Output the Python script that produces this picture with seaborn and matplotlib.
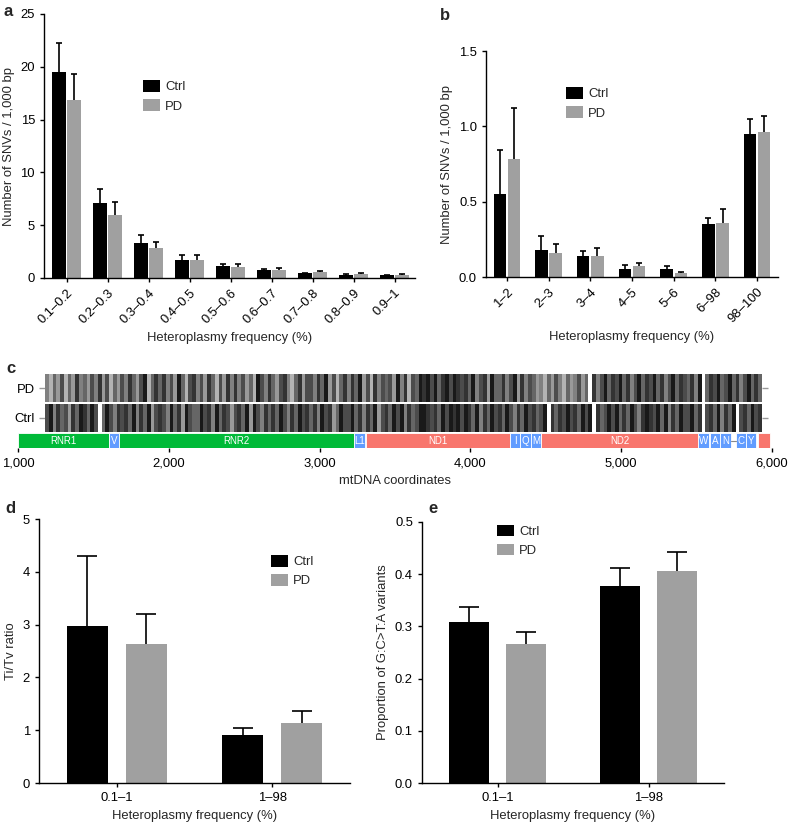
import matplotlib
matplotlib.use("Agg")
import matplotlib.pyplot as plt
import matplotlib.ticker as mticker
import pandas as pd
import seaborn as sns

sns.set_style("ticks")
plt.rcParams['font.family'] = ['Liberation Sans', 'DejaVu Sans']
plt.rcParams['font.size'] = 9.4
plt.rcParams['axes.linewidth'] = 1.0
plt.rcParams['xtick.major.width'] = 1.0
plt.rcParams['ytick.major.width'] = 1.0
plt.rcParams['xtick.major.size'] = 3
plt.rcParams['ytick.major.size'] = 3
plt.rcParams['xtick.color'] = 'black'
plt.rcParams['ytick.color'] = 'black'
plt.rcParams['axes.edgecolor'] = 'black'

groups = ["Ctrl", "PD"]
colors = {"Ctrl": "#000000", "PD": "#a0a0a0"}

# panel a
a_bins = ["0.1–0.2", "0.2–0.3", "0.3–0.4", "0.4–0.5", "0.5–0.6",
          "0.6–0.7", "0.7–0.8", "0.8–0.9", "0.9–1"]
a_ctrl = [19.5, 7.1, 3.35, 1.7, 1.1, 0.72, 0.45, 0.3, 0.28]
a_ctrl_top = [22.3, 8.4, 4.05, 2.15, 1.3, 0.85, 0.52, 0.35, 0.33]
a_pd = [16.9, 6.0, 2.85, 1.75, 1.05, 0.8, 0.55, 0.4, 0.32]
a_pd_top = [19.3, 7.2, 3.4, 2.2, 1.32, 0.97, 0.65, 0.46, 0.4]

# panel b
b_bins = ["1–2", "2–3", "3–4", "4–5", "5–6", "6–98", "98–100"]
b_ctrl = [0.55, 0.18, 0.14, 0.05, 0.05, 0.35, 0.95]
b_ctrl_top = [0.84, 0.27, 0.17, 0.08, 0.07, 0.39, 1.05]
b_pd = [0.78, 0.16, 0.14, 0.07, 0.025, 0.36, 0.96]
b_pd_top = [1.12, 0.22, 0.19, 0.09, 0.032, 0.45, 1.07]

# panel c: binned SNV density (darkness 0-9) per 25 bp, from 1180 to 5930
c_start = 1180
c_end = 5930
c_bin = 25
c_pd = ("5364736485 6475847364 7586479368 6857496378 5748637485 "
        "8574639758 6478536847 7586947368 5869473857 6749583769 "
        "8979689798 7869578496 6857948576 4536475364 5746085796 "
        "8796857968 7968579687 6859068796 7968579686").replace(" ", "")
c_ctrl = ("7958674869 8697069758 7869586947 8759684976 6978596874 "
          "7869497586 8697586978 6859784697 7968586947 8697958679 "
          "9878697989 7986958697 8697586978 6790868797 8697908679 "
          "7968697589 8796958697 7968078695 8690786978").replace(" ", "")

gene_names = ["RNR1", "V", "RNR2", "L1", "ND1", "I", "Q", "M", "ND2",
              "W", "A", "N", "C", "Y", ""]
gene_start = [1000, 1602, 1671, 3230, 3307, 4263, 4331, 4402, 4470,
              5512, 5587, 5657, 5761, 5826, 5904]
gene_end = [1601, 1670, 3229, 3304, 4262, 4331, 4400, 4469, 5511,
            5579, 5655, 5729, 5826, 5891, 5990]
gene_kind = ["rRNA", "tRNA", "rRNA", "tRNA", "prot", "tRNA", "tRNA", "tRNA",
             "prot", "tRNA", "tRNA", "tRNA", "tRNA", "tRNA", "prot"]
kind_colors = {"rRNA": "#00ba38", "tRNA": "#619cff", "prot": "#f8766d"}

# panel d
d_bins = ["0.1–1", "1–98"]
d_ctrl = [2.97, 0.9]
d_ctrl_top = [4.3, 1.05]
d_pd = [2.63, 1.13]
d_pd_top = [3.21, 1.37]

# panel e
e_ctrl = [0.308, 0.378]
e_ctrl_top = [0.338, 0.412]
e_pd = [0.266, 0.406]
e_pd_top = [0.29, 0.442]


def bar_panel(ax, cats, ctrl, pdv, ctrl_top, pd_top, width, gap, capsize):
    df = pd.DataFrame({"bin": cats * 2,
                       "group": ["Ctrl"] * len(cats) + ["PD"] * len(cats),
                       "value": ctrl + pdv})
    sns.barplot(data=df, x="bin", y="value", hue="group", palette=colors,
                width=width, gap=gap, errorbar=None, saturation=1,
                linewidth=0, ax=ax)
    # one-sided (upper) error bars, cap only at the top
    for cont, top in zip(ax.containers, [ctrl_top, pd_top]):
        for bar, t in zip(cont, top):
            x = bar.get_x() + bar.get_width() / 2
            h = bar.get_height()
            ax.vlines(x, h, t, color="black", lw=1.2, zorder=5)
            ax.plot([x], [t], marker="_", ms=capsize * 2, mew=1.2, color="black",
                    zorder=5, clip_on=False)
    sns.despine(ax=ax)
    ax.set_xlabel("Heteroplasmy frequency (%)")


def legend(ax, anchor):
    h, l = ax.get_legend_handles_labels()
    ax.legend(h[:2], l[:2], loc="upper left", bbox_to_anchor=anchor, frameon=False,
              borderaxespad=0, borderpad=0, handlelength=1.3, handleheight=1.0,
              handletextpad=0.4, labelspacing=0.45, fontsize=9.4)


W, H = 788, 823
fig = plt.figure(figsize=(W / 100, H / 100), dpi=100)


def box(x0, y0, x1, y1):
    return [x0 / W, 1 - y1 / H, (x1 - x0) / W, (y1 - y0) / H]


# a
ax_a = fig.add_axes(box(44, 14, 415, 278))
bar_panel(ax_a, a_bins, a_ctrl, a_pd, a_ctrl_top, a_pd_top, 0.75, 0.09, 2.5)
ax_a.set_xlim(-0.55, 8.5)
ax_a.set_ylim(0, 25)
ax_a.set_yticks([0, 5, 10, 15, 20, 25])
ax_a.set_ylabel("Number of SNVs / 1,000 bp")
plt.setp(ax_a.get_xticklabels(), rotation=45, ha="right", rotation_mode="anchor")
legend(ax_a, (0.267, 0.75))

# b
ax_b = fig.add_axes(box(486, 51, 778, 277))
bar_panel(ax_b, b_bins, b_ctrl, b_pd, b_ctrl_top, b_pd_top, 0.68, 0.12, 2.2)
ax_b.set_xlim(-0.5, 6.5)
ax_b.set_ylim(0, 1.5)
ax_b.set_yticks([0, 0.5, 1.0, 1.5])
ax_b.yaxis.set_major_formatter(mticker.FormatStrFormatter("%.1f"))
ax_b.set_ylabel("Number of SNVs / 1,000 bp")
plt.setp(ax_b.get_xticklabels(), rotation=45, ha="right", rotation_mode="anchor")
legend(ax_b, (0.274, 0.84))

# c: barcode rows
ax_cb = fig.add_axes(box(45, 374, 762, 432))
for row, bottom in [(c_pd, 30), (c_ctrl, 0)]:
    xs = [c_start + i * c_bin for i in range(len(row))]
    cols = [str(1 - int(d) / 9 * 0.9) for d in row]
    ax_cb.bar(xs, 28, bottom=bottom, width=c_bin, align="edge", color=cols, linewidth=0)
ax_cb.set_xlim(c_start, c_end)
ax_cb.set_ylim(0, 58)
ax_cb.set_xticks([])
ax_cb.set_yticks([44, 14])
ax_cb.set_yticklabels(["PD", "Ctrl"])
ax_cb.tick_params(axis="y", color="#999999", length=4, right=True, labelright=False)
for sp in ax_cb.spines.values():
    sp.set_visible(False)

# c: gene track
ax_c = fig.add_axes(box(18, 433, 772, 448))
ax_c.plot([5729, 5761], [7.5, 7.5], color="#888888", lw=0.8)
for name, s, e, k in zip(gene_names, gene_start, gene_end, gene_kind):
    ax_c.bar(s, 15, bottom=0, width=e - s, align="edge", color=kind_colors[k],
             edgecolor="white", linewidth=0.6)
    if name:
        ax_c.text((s + e) / 2, 7.5, name, color="white", fontsize=7,
                  ha="center", va="center")
ax_c.set_xlim(1000, 6000)
ax_c.set_ylim(0, 15)
ax_c.set_xticks([1000, 2000, 3000, 4000, 5000, 6000])
ax_c.xaxis.set_major_formatter(mticker.FuncFormatter(lambda v, p: f"{int(v):,}"))
ax_c.set_yticks([])
for sp in ax_c.spines.values():
    sp.set_visible(False)
ax_c.set_xlabel("mtDNA coordinates")

# d
ax_d = fig.add_axes(box(39, 519, 350, 783))
bar_panel(ax_d, d_bins, d_ctrl, d_pd, d_ctrl_top, d_pd_top, 0.76, 0.3, 7)
ax_d.set_xlim(-0.5, 1.5)
ax_d.set_ylim(0, 5)
ax_d.set_yticks([0, 1, 2, 3, 4, 5])
ax_d.set_ylabel("Ti/Tv ratio")
legend(ax_d, (0.746, 0.864))

# e
ax_e = fig.add_axes(box(422, 522, 724, 783))
bar_panel(ax_e, d_bins, e_ctrl, e_pd, e_ctrl_top, e_pd_top, 0.76, 0.3, 7)
ax_e.set_xlim(-0.5, 1.5)
ax_e.set_ylim(0, 0.5)
ax_e.set_yticks([0, 0.1, 0.2, 0.3, 0.4, 0.5])
ax_e.yaxis.set_major_formatter(mticker.FormatStrFormatter("%.1f"))
ax_e.set_ylabel("Proportion of G:C>T:A variants")
legend(ax_e, (0.248, 0.99))

for lab, x, y in [("a", 3, 16), ("b", 440, 20), ("c", 6, 373), ("d", 5, 513), ("e", 428, 513)]:
    fig.text(x / W, 1 - y / H, lab, fontsize=12, fontweight="bold", va="baseline")

fig.savefig("out.png", dpi=100)
